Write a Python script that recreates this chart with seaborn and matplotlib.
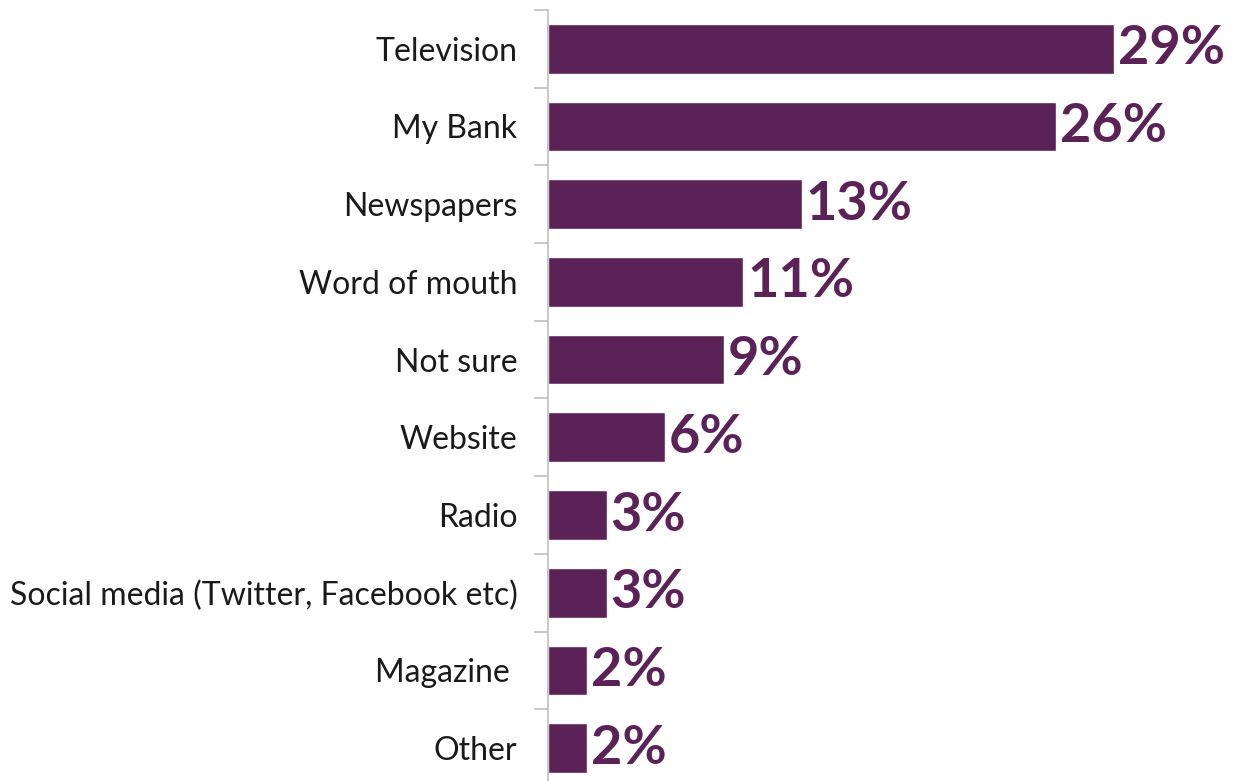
import numpy as np
import pandas as pd
import matplotlib
matplotlib.use('Agg')
import matplotlib.pyplot as plt
import seaborn as sns

# data
categories = ['Television', 'My Bank', 'Newspapers', 'Word of mouth', 'Not sure',
              'Website', 'Radio', 'Social media (Twitter, Facebook etc)', 'Magazine ', 'Other']
# bar lengths as drawn (word of mouth bar is drawn at ~10 though labelled 11%)
bar_lengths = [29, 26, 13, 10, 9, 6, 3, 3, 2, 2]
value_labels = ['29%', '26%', '13%', '11%', '9%', '6%', '3%', '3%', '2%', '2%']

df = pd.DataFrame({'source': categories, 'pct': bar_lengths})

sns.set_style('white')
plt.rcParams['font.family'] = ['Lato', 'DejaVu Sans']

purple = '#5B2257'

fig = plt.figure(figsize=(12.4, 7.81), dpi=100)
ax = fig.add_axes([0.442, -0.0077, 0.551, 0.995])

sns.barplot(data=df, y='source', x='pct', orient='h', color=purple,
            width=0.64, saturation=1, ax=ax)

# value labels at bar ends
for i, (v, lab) in enumerate(zip(bar_lengths, value_labels)):
    ax.text(v + 0.2, i, lab, va='center', ha='left', fontsize=39,
            fontweight='bold', color=purple)

ax.set_xlim(0, 35)
ax.set_ylim(len(categories) - 0.5, -0.5)
ax.set_xlabel('')
ax.set_ylabel('')
ax.set_xticks([])

# tick marks sit between categories
ax.tick_params(axis='y', which='major', length=0, labelsize=23, pad=22, labelcolor='#1a1a1a')
ax.set_yticks(np.arange(-0.5, len(categories), 1), minor=True)
ax.tick_params(axis='y', which='minor', length=10, width=1.2, color='#BFBFBF', left=True)

for s in ['top', 'right', 'bottom']:
    ax.spines[s].set_visible(False)
ax.spines['left'].set_color('#BFBFBF')
ax.spines['left'].set_linewidth(1.2)

fig.savefig('out.png', dpi=100)
